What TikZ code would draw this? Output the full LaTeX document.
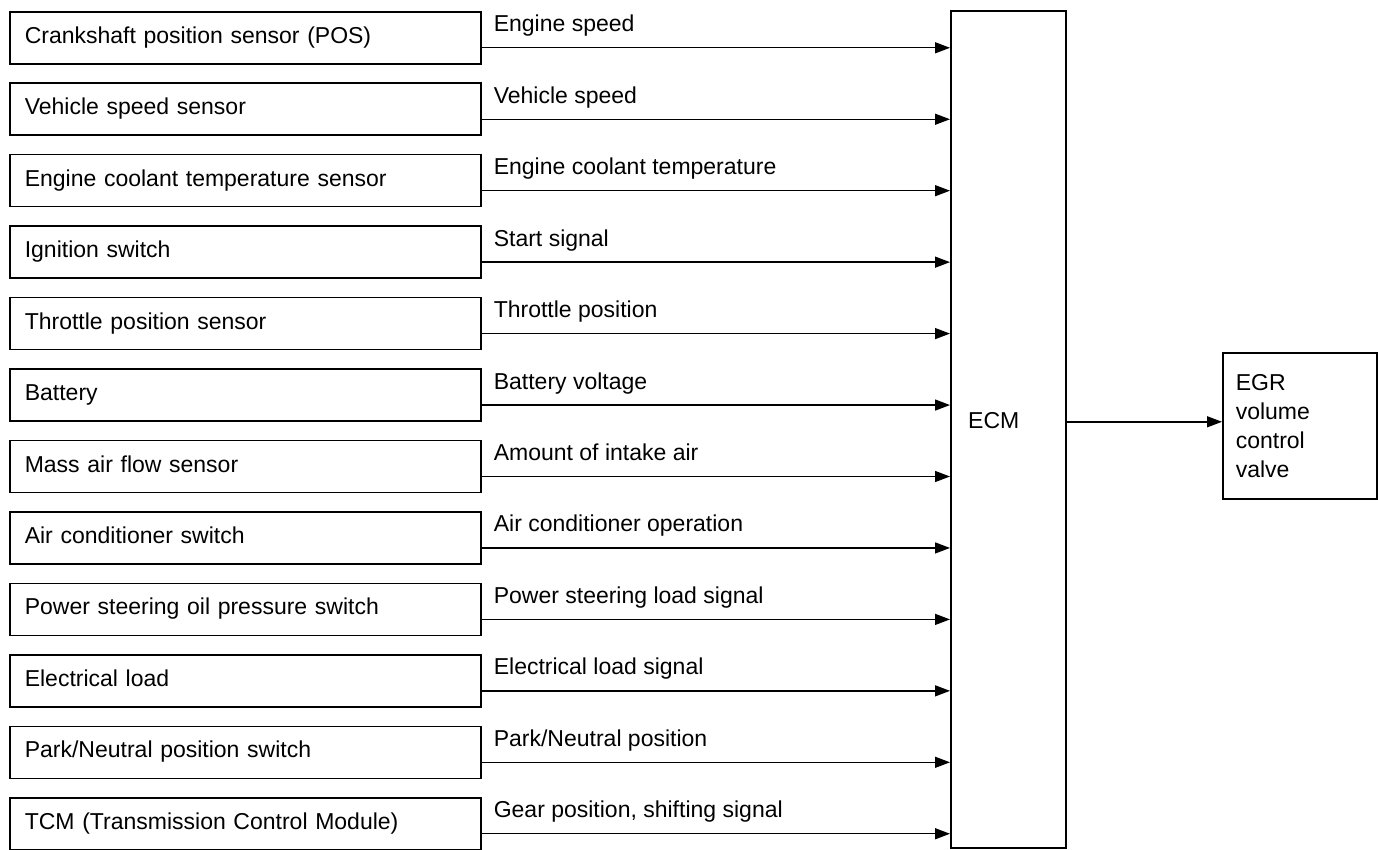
\documentclass[tikz,border=0pt]{standalone}
\usepackage{fontspec}
\setmainfont{Liberation Sans}
\usetikzlibrary{arrows.meta}
\begin{document}
\begin{tikzpicture}[x=1pt,y=1pt,
  every node/.style={font=\fontsize{23}{29}\selectfont},
  srcbox/.style={draw, line width=1.6pt, anchor=north west, minimum height=52pt, text width=441pt, text height=16pt, text depth=5pt, inner xsep=15pt, align=left},
  sig/.style={line width=1.4pt, -{Triangle[length=15pt,width=11pt]}},
  lab/.style={anchor=base west, inner sep=0pt}]
\useasboundingbox (0,0) rectangle (1378,-850);
\node[draw, line width=1.6pt, anchor=north west, minimum width=115pt, minimum height=837pt, inner sep=0pt] (ecm) at (950,-10) {};
\node[anchor=west, inner sep=0pt] (ecmtext) at (968,-421) {ECM};
\node[draw, line width=1.6pt, anchor=north west, minimum width=154pt, minimum height=146pt, text width=128pt, inner xsep=13pt, align=left] (egr) at (1222,-352) {EGR\\volume\\control\\valve};
\draw[sig] ([yshift=4pt]egr.west -| ecm.east) -- ([yshift=4pt]egr.west);
\foreach \i/\src/\sg in {
 0/Crankshaft position sensor (POS)/Engine speed,
 1/Vehicle speed sensor/Vehicle speed,
 2/Engine coolant temperature sensor/Engine coolant temperature,
 3/Ignition switch/Start signal,
 4/Throttle position sensor/Throttle position,
 5/Battery/Battery voltage,
 6/Mass air flow sensor/Amount of intake air,
 7/Air conditioner switch/Air conditioner operation,
 8/Power steering oil pressure switch/Power steering load signal,
 9/Electrical load/Electrical load signal,
 10/Park\slash Neutral position switch/Park\slash Neutral position,
 11/TCM (Transmission Control Module)/{Gear position, shifting signal}}{
  \node[srcbox] (s\i) at (9,{-11-71.45*\i}) {\src};
  \draw[sig] ([yshift=-10pt]s\i.east) -- ([yshift=-10pt]s\i.east -| ecm.west);
  \node[lab] (l\i) at ([xshift=12pt,yshift=6pt]s\i.east) {\sg};
}
\end{tikzpicture}
\end{document}
